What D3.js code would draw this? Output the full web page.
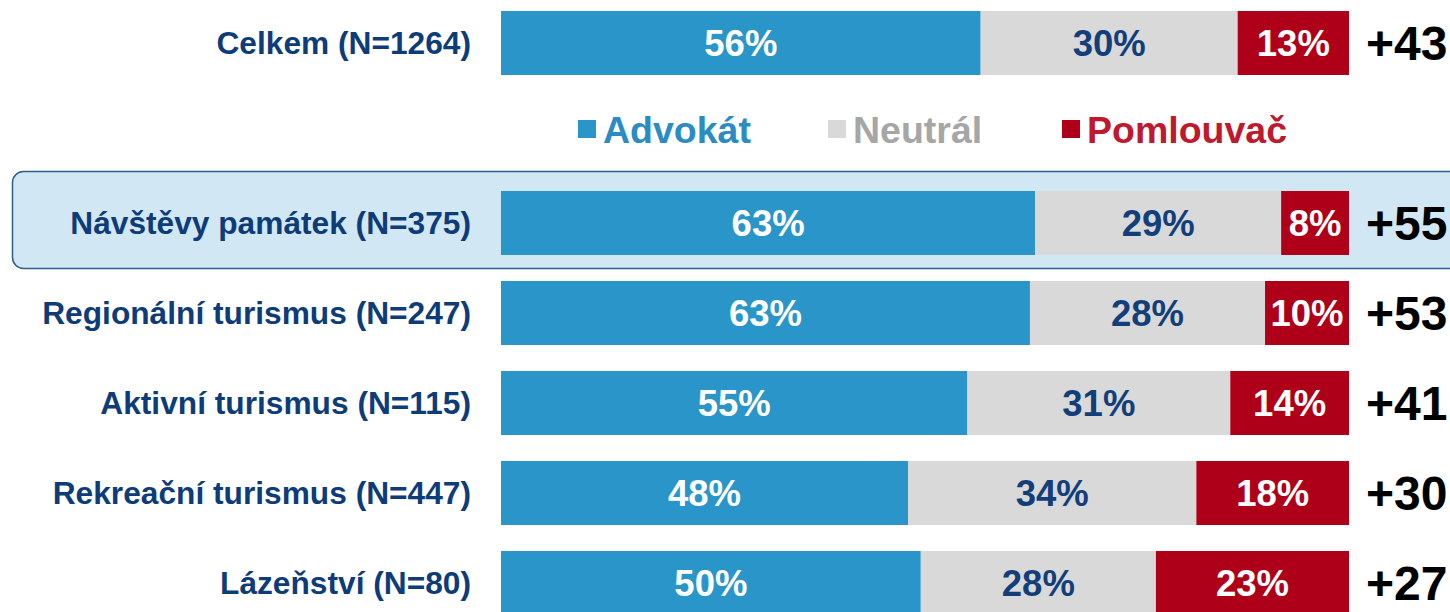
<!DOCTYPE html>
<html>
<head>
<meta charset="utf-8">
<script src="https://cdn.jsdelivr.net/npm/d3@7"></script>
<style>
  html, body { margin: 0; padding: 0; background: #fff; }
  svg { display: block; font-family: "Liberation Sans", Arial, sans-serif; font-weight: bold; }
</style>
</head>
<body>
<svg id="chart" width="1450" height="612"></svg>
<script>
// Segment groups (NPS style)
const categories = ["Celkem (N=1264)", "Návštěvy památek (N=375)", "Regionální turismus (N=247)",
                    "Aktivní turismus (N=115)", "Rekreační turismus (N=447)", "Lázeňství (N=80)"];
const seriesNames = ["Advokát", "Neutrál", "Pomlouvač"];
const advokat   = [56, 63, 63, 55, 48, 50];
const neutral   = [30, 29, 28, 31, 34, 28];
const pomlouvac = [13, 8, 10, 14, 18, 23];
const netScore  = ["+43", "+55", "+53", "+41", "+30", "+27"];
const highlighted = "Návštěvy památek (N=375)";

const colors = { "Advokát": "#2a95c8", "Neutrál": "#d9d9d9", "Pomlouvač": "#af0019" };
const valueColors = { "Advokát": "#ffffff", "Neutrál": "#123f7a", "Pomlouvač": "#ffffff" };
const legendTextColors = { "Advokát": "#2a8cc2", "Neutrál": "#a6a6a6", "Pomlouvač": "#c0182c" };

const rows = categories.map((c, i) => ({
  category: c, "Advokát": advokat[i], "Neutrál": neutral[i], "Pomlouvač": pomlouvac[i], net: netScore[i]
}));

const svg = d3.select("#chart");
const W = 1450;

// Row slots: the legend occupies the second slot, between the total and the segments
const LEGEND_SLOT = "__legend__";
const slots = [categories[0], LEGEND_SLOT, ...categories.slice(1)];
const y = d3.scaleBand().domain(slots).range([-2, 628]).paddingInner(26 / 90).paddingOuter(13 / 90);
const x = d3.scaleLinear().domain([0, 1]).range([501, 1349]);

// Each bar shows its shares of the row total
const stack = d3.stack().keys(seriesNames).offset(d3.stackOffsetExpand);
const layers = stack(rows);

// Highlight panel behind the selected segment
const hy = y(highlighted);
svg.append("rect")
  .attr("x", 12.5).attr("y", hy - 19.5)
  .attr("width", W + 20).attr("height", y.bandwidth() + 33)
  .attr("rx", 11).attr("ry", 11)
  .attr("fill", "#d2e7f4").attr("stroke", "#2f5d8c").attr("stroke-width", 1.5);

// Stacked bars
const g = svg.append("g");
layers.forEach(layer => {
  const key = layer.key;
  const grp = g.append("g");
  grp.selectAll("rect").data(layer).join("rect")
    .attr("x", d => x(d[0]))
    .attr("y", d => y(d.data.category))
    .attr("width", d => x(d[1]) - x(d[0]))
    .attr("height", y.bandwidth())
    .attr("fill", colors[key]);
  grp.selectAll("text").data(layer).join("text")
    .attr("x", d => (x(d[0]) + x(d[1])) / 2)
    .attr("y", d => y(d.data.category) + y.bandwidth() / 2)
    .attr("dy", "0.36em")
    .attr("text-anchor", "middle")
    .attr("font-size", 36.5)
    .attr("fill", valueColors[key])
    .text(d => d.data[key] + "%");
});

// Category labels
svg.append("g").selectAll("text").data(rows).join("text")
  .attr("x", 471)
  .attr("y", d => y(d.category) + y.bandwidth() / 2)
  .attr("dy", "0.36em")
  .attr("text-anchor", "end")
  .attr("font-size", 31.7)
  .attr("fill", "#0d3c78")
  .text(d => d.category);

// Net scores
svg.append("g").selectAll("text").data(rows).join("text")
  .attr("x", 1366)
  .attr("y", d => y(d.category) + y.bandwidth() / 2)
  .attr("dy", "0.36em")
  .attr("text-anchor", "start")
  .attr("font-size", 48)
  .attr("fill", "#000")
  .text(d => d.net);

// Legend
const ly = y(LEGEND_SLOT) + y.bandwidth() / 2 - 4;
const legendX = [578, 828, 1062];
const lg = svg.append("g");
seriesNames.forEach((s, i) => {
  lg.append("rect")
    .attr("x", legendX[i]).attr("y", ly - 9)
    .attr("width", 18).attr("height", 18)
    .attr("fill", colors[s]);
  lg.append("text")
    .attr("x", legendX[i] + 25).attr("y", ly)
    .attr("dy", "0.36em")
    .attr("font-size", 37.5)
    .attr("fill", legendTextColors[s])
    .text(s);
});
</script>
</body>
</html>
